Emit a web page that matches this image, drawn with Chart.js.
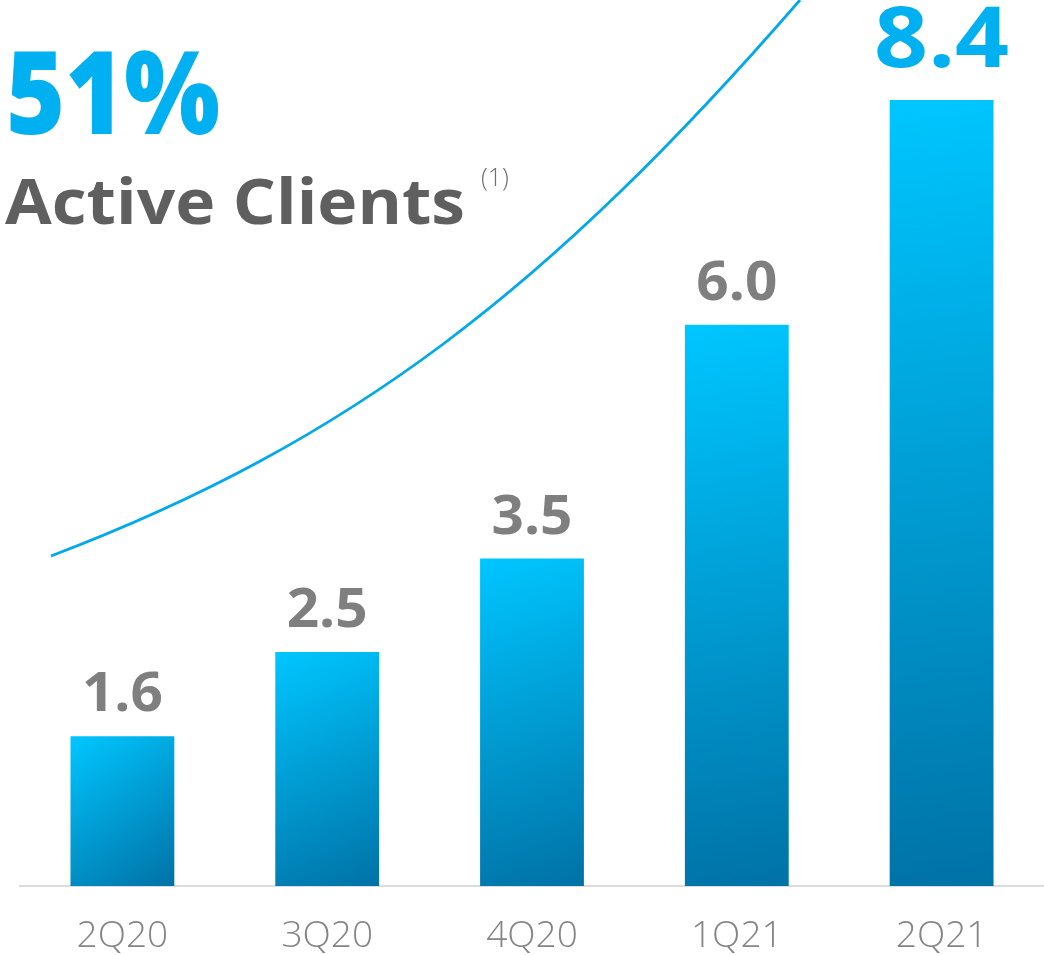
<!DOCTYPE html>
<html>
<head>
<meta charset="utf-8">
<script src="https://cdn.jsdelivr.net/npm/chart.js@4"></script>
<style>
    html, body { margin: 0; padding: 0; background: #ffffff; }
    #wrap { width: 1044px; height: 955px; }
</style>
</head>
<body>
<div id="wrap"><canvas id="myChart" width="1044" height="955"></canvas></div>
<script>
// quarterly active clients, millions
const quarters = ['2Q20', '3Q20', '4Q20', '1Q21', '2Q21'];
const clients = [1.6, 2.5, 3.5, 6.0, 8.4];

const growthText = '51%';
const headlineText = 'Active Clients';
const footnoteText = '(1)';

const BLUE = '#00b0f0';
const GREY_DARK = '#5f5f5f';
const GREY = '#7f7f7f';
const FONT = '"Open Sans", "Noto Sans", sans-serif';

// draw text squeezed/stretched to a given width
function fitText(ctx, text, x, y, width, font, align) {
    ctx.font = font;
    const w = ctx.measureText(text).width;
    ctx.save();
    ctx.translate(x, y);
    ctx.scale(width / w, 1);
    ctx.textAlign = align || 'left';
    ctx.fillText(text, 0, 0);
    ctx.restore();
}

// diagonal light-to-dark fill for each bar
function barGradient(context) {
    const chart = context.chart;
    const xs = chart.scales.x, ys = chart.scales.y;
    if (!xs || !ys || context.dataIndex === undefined) return BLUE;
    const cx = xs.getPixelForValue(context.dataIndex);
    const half = (xs.width / quarters.length) * 0.507 / 2;
    const top = ys.getPixelForValue(clients[context.dataIndex]);
    const bottom = ys.getPixelForValue(0);
    if (![cx, half, top, bottom].every(Number.isFinite) || half <= 0) return BLUE;
    const g = chart.ctx.createLinearGradient(cx - half, top, cx + half, bottom);
    g.addColorStop(0, '#00c6ff');
    g.addColorStop(1, '#0072a6');
    return g;
}

const headline = {
    id: 'headline',
    afterDraw(chart) {
        const ctx = chart.ctx;
        ctx.save();
        ctx.textBaseline = 'alphabetic';
        ctx.fillStyle = BLUE;
        fitText(ctx, growthText, 6, 134, 214, '800 115px ' + FONT);
        ctx.fillStyle = GREY_DARK;
        fitText(ctx, headlineText, 5, 224, 460, '700 63px ' + FONT);
        ctx.fillStyle = '#707070';
        ctx.font = '300 25px ' + FONT;
        ctx.fillText(footnoteText, 481, 186);
        ctx.restore();
    }
};

// swoosh rising behind the bars
const growthArc = {
    id: 'growthArc',
    beforeDatasetsDraw(chart) {
        const ctx = chart.ctx;
        ctx.save();
        ctx.strokeStyle = '#00a8ec';
        ctx.lineWidth = 2.8;
        ctx.beginPath();
        ctx.moveTo(51, 556);
        ctx.bezierCurveTo(351, 442, 550, 288, 800, 0);
        ctx.stroke();
        ctx.restore();
    }
};

const valueLabels = {
    id: 'valueLabels',
    afterDatasetsDraw(chart) {
        const ctx = chart.ctx;
        const meta = chart.getDatasetMeta(0);
        ctx.save();
        ctx.textBaseline = 'alphabetic';
        ctx.font = '700 53px ' + FONT;
        const stretch = 81 / ctx.measureText('6.0').width;
        meta.data.forEach((bar, i) => {
            const text = clients[i].toFixed(1);
            const last = i === clients.length - 1;
            ctx.fillStyle = last ? BLUE : GREY;
            const font = last ? '700 84px ' + FONT : '700 53px ' + FONT;
            ctx.font = font;
            const w = ctx.measureText(text).width;
            const target = last ? 135 : w * stretch;
            fitText(ctx, text, bar.x, bar.y - (last ? 33 : 25), target, font, 'center');
        });
        ctx.restore();
    }
};

const data = {
    labels: quarters,
    datasets: [
        {
            label: 'Active Clients',
            data: clients,
            backgroundColor: barGradient,
            borderWidth: 0,
            barPercentage: 0.507,
            categoryPercentage: 1
        }
    ]
};

const config = {
    type: 'bar',
    data: data,
    options: {
        responsive: false,
        animation: false,
        devicePixelRatio: 1,
        layout: {
            padding: { left: 20, right: 0, top: 0, bottom: 0 }
        },
        plugins: {
            legend: { display: false },
            tooltip: { enabled: false }
        },
        scales: {
            x: {
                grid: { display: false, drawTicks: false },
                border: { display: true, color: '#dcdcdc', width: 2 },
                ticks: {
                    color: '#858585',
                    padding: 28,
                    font: { family: FONT, size: 37, weight: '300' }
                },
                afterFit(scale) {
                    scale.height = 69;
                }
            },
            y: {
                display: false,
                min: 0,
                max: 9.47
            }
        }
    },
    plugins: [growthArc, valueLabels, headline]
};

const myChart = new Chart(
    document.getElementById('myChart'),
    config
);
</script>
</body>
</html>
